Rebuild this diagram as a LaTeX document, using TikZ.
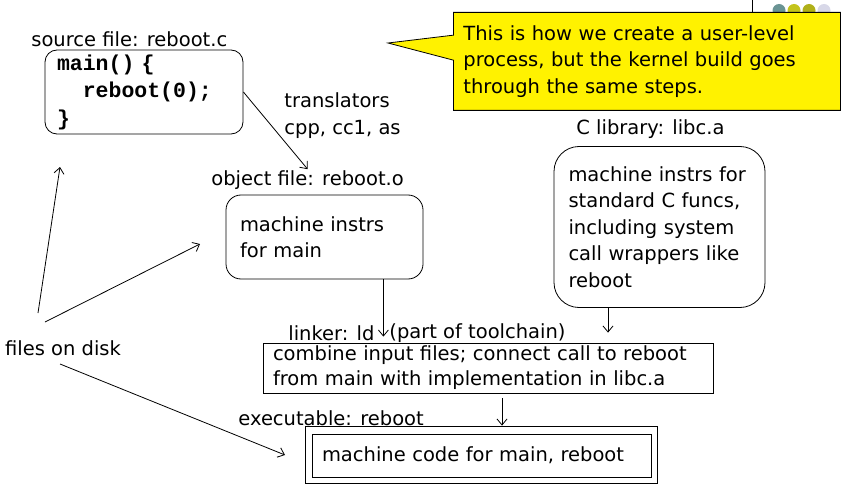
\documentclass[tikz,border=0pt]{standalone}
\usepackage{fontspec}
\setmainfont{DejaVu Sans}
\setmonofont{Liberation Mono}
\usetikzlibrary{calc, positioning, shapes.callouts, arrows.meta}

\definecolor{dotteal}{HTML}{6A9494}
\definecolor{dotolive}{HTML}{C4C41C}
\definecolor{dotlav}{HTML}{D8D8E8}

\begin{document}
\begin{tikzpicture}[x=1pt, y=-1pt, >={Straight Barb[length=6pt, width=10pt]}, line width=0.8pt,
  font=\fontsize{19.5}{26.5}\selectfont,
  lbl/.style={anchor=west, inner sep=1pt},
  rbox/.style={draw, align=left, inner sep=3pt},
  note/.style={rectangle callout, draw, fill=yellow, align=left, inner sep=10pt,
    callout pointer width=25pt}]
\useasboundingbox (0,0) rectangle (854,492);

% slide decoration (behind the callout)
\draw[line width=0.6pt] (752,0) -- (752,40);
\fill[dotteal] (779,10.5) circle (6.5pt);
\fill[dotolive] (794,10.5) circle (6.5pt);
\fill[dotolive!90!black] (809,10.5) circle (6.5pt);
\fill[dotlav] (824,10.5) circle (6.5pt);

% callout
\node[note, anchor=north west, minimum width=387pt, minimum height=98pt,
  text width=367pt, callout absolute pointer={(388,43)}] (note) at (453,12)
  {This is how we create a user-level\\process, but the kernel build goes\\through the same steps.};

% source file
\node[lbl] (srclbl) at (30,39) {source file: reboot.c};
\node[rbox, rounded corners=12pt, minimum width=198pt, minimum height=84pt, text width=174pt,
  font=\fontsize{21.5}{27.5}\selectfont\ttfamily\bfseries] (src) at (144,92)
  {main() \{\\\phantom{xx}reboot(0);\\\}};
\node[lbl, align=left] (trans) at (283,115.5) {translators\\cpp, cc1, as};

% object file
\node[lbl] (objlbl) at (210,180) {object file: reboot.o};
\node[rbox, rounded corners=15pt, minimum width=197pt, minimum height=84pt, text width=169pt]
  (obj) at (324.5,237) {machine instrs\\for main};

% C library
\node[lbl] (liblbl) at (575,129) {C library: libc.a};
\node[rbox, rounded corners=25pt, minimum width=211pt, minimum height=161pt, text width=182pt]
  (lib) at (659.5,227) {machine instrs for\\standard C funcs,\\including system\\call wrappers like\\reboot};

% linker
\node[lbl] (ldlbl) at (287,333) {linker: ld};
\node[lbl] (tclbl) at (388,333) {(part of toolchain)};
\node[rbox, inner sep=1pt, minimum width=450pt, minimum height=50pt, text width=430pt,
  font=\fontsize{19.5}{25}\selectfont] (linker) at (488,368)
  {combine input files; connect call to reboot\\from main with implementation in libc.a};

% executable
\node[lbl] (exelbl) at (237,418) {executable: reboot};
\node[rbox, minimum width=339pt, minimum height=43pt, text width=319pt] (exe) at (481.5,455.5)
  {machine code for main, reboot};
\draw ([shift={(-6,-7)}]exe.north west) rectangle ([shift={(6,6)}]exe.south east);

% files on disk
\node (disk) at (63,348) {files on disk};
\coordinate (srcpt) at (60,167);
\coordinate (objpt) at (200,244);
\coordinate (exept) at (285,455);

% arrows
\draw[->] (src.east) -- (objlbl.north);
\draw[->] ([xshift=-40pt]obj.south east) -- ([xshift=-40pt,yshift=6pt]obj.south east |- linker.north);
\draw[->] ([xshift=-51.5pt]lib.south) -- ([xshift=-51.5pt,yshift=10pt]lib.south |- linker.north);
\draw[->, shorten <=5pt, shorten >=8pt] ([xshift=14pt]linker.south) -- ([xshift=14pt]linker.south |- exe.north);
\draw[->] ([shift={(-25,-35)}]disk.center) -- (srcpt);
\draw[->] ([shift={(-18,-26)}]disk.center) -- (objpt);
\draw[->] ([shift={(-3,16)}]disk.center) -- (exept);
\end{tikzpicture}
\end{document}
